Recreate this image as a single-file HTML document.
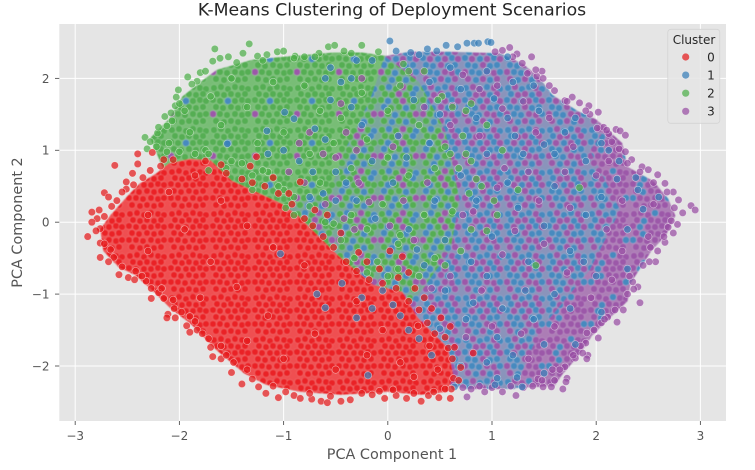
<!DOCTYPE html>
<html>
<head>
<meta charset="utf-8">
<title>K-Means Clustering of Deployment Scenarios</title>
<style>
html,body{margin:0;padding:0;background:#fff;width:755px;height:470px;overflow:hidden}
svg{display:block;font-family:"DejaVu Sans","Liberation Sans",sans-serif;filter:blur(0.35px)}
</style>
</head>
<body>
<svg id="chart" xmlns="http://www.w3.org/2000/svg" width="755" height="470" viewBox="0 0 755 470">
  <defs id="defs"><clipPath id="plot-clip"><rect x="59.3" y="24" width="666.7" height="397"/></clipPath><filter id="soften" x="-5%" y="-5%" width="110%" height="110%"><feGaussianBlur stdDeviation="0.4"/></filter></defs>
  <rect width="755" height="470" fill="#fff"/>
  <rect x="59.3" y="24" width="666.7" height="397" fill="#e5e5e5"/>
  <g id="grid"></g>
  <g id="regions" filter="url(#soften)"></g>
  <g id="points" clip-path="url(#plot-clip)"></g>
  <g id="axes"></g>
  <text x="392" y="15.5" text-anchor="middle" font-size="17.3" fill="#262626">K-Means Clustering of Deployment Scenarios</text>
  <text x="392" y="459" text-anchor="middle" font-size="14.4" fill="#555">PCA Component 1</text>
  <text transform="translate(22,222.5) rotate(-90)" text-anchor="middle" font-size="14.4" fill="#555">PCA Component 2</text>
  <g id="legend">
    <rect x="667.8" y="29.3" width="52" height="94" rx="3" fill="#e5e5e5" fill-opacity="0.85" stroke="#d4d4d4" stroke-width="0.8"/>
    <text x="694" y="44" text-anchor="middle" font-size="12" fill="#262626">Cluster</text>
  </g>
</svg>
<script>
// Axis tick labels
const xTicks = [-3, -2, -1, 0, 1, 2, 3];
const yTicks = [-2, -1, 0, 1, 2];
const clusters = ['0', '1', '2', '3'];

// Outlines of the dense areas as [pc1, pc2]
const regionRed = [[-2.76,-0.1],[-2.66,0.1],[-2.5,0.36],[-2.38,0.54],[-2.22,0.68],[-2.1,0.82],[-1.9,0.88],[-1.7,0.86],[-1.5,0.58],[-1.02,0.26],[-0.86,0.09],[-0.48,-0.46],[-0.14,-0.87],[0.14,-0.97],[0.29,-1.33],[0.58,-1.75],[0.63,-2.14],[0.57,-2.36],[0.32,-2.4],[0,-2.36],[-0.45,-2.4],[-0.84,-2.36],[-1.17,-2.26],[-1.38,-2.1],[-1.66,-1.76],[-1.88,-1.43],[-2.1,-1.18],[-2.25,-0.96],[-2.43,-0.73],[-2.58,-0.63],[-2.73,-0.4]];
const regionGreen = [[-2.28,1.17],[-2.1,1.44],[-1.97,1.75],[-1.77,1.98],[-1.64,2.12],[-1.3,2.26],[-1.0,2.3],[-0.52,2.36],[-0.25,2.36],[0.05,2.3],[0.1,1.7],[-0.2,1.0],[-0.35,0.4],[-0.9,-0.05],[-1.45,0.35],[-1.7,0.65],[-2.15,0.72]];
const regionGreenMix = [[-0.03,2.31],[0.3,1.95],[0.55,1.28],[0.69,0.31],[0.6,-0.39],[0.25,-1.1],[-0.12,-1.1],[-0.5,-0.7],[-0.9,-0.1],[-1.0,0.2],[-0.55,0.45],[-0.41,1.0],[-0.17,1.7]];
const regionBlueMix = [[-0.03,2.31],[0.21,2.37],[0.6,2.37],[1.08,2.35],[1.3,2.2],[1.46,2.0],[1.58,1.77],[1.82,1.55],[2.0,1.43],[2.05,1.22],[1.94,1.0],[2.23,0.17],[1.94,-0.66],[1.46,-1.5],[1.22,-2.32],[0.76,-2.32],[0.55,-2.25],[0.4,-1.75],[0.1,-1.3],[0.05,-0.7],[0.4,0.3],[0.3,1.3],[0.1,1.95]];
const regionPurple = [[2.0,1.43],[2.25,1.1],[2.3,0.77],[2.55,0.57],[2.69,0.33],[2.76,0.09],[2.67,-0.18],[2.53,-0.4],[2.33,-0.85],[2.3,-1.1],[2.11,-1.36],[1.96,-1.58],[1.85,-1.82],[1.67,-2.13],[1.6,-2.28],[1.0,-2.32],[1.2,-1.5],[1.7,-0.66],[2.0,0.17],[1.7,1.0],[1.8,1.3]];

// Individually read points for each cluster as [pc1, pc2]
const points0 = [[-2.62,0.79],[-2.40,0.95],[-2.26,0.97],[-2.40,0.81],[-2.72,0.41],[-2.68,0.35],[-2.84,0.14],[-2.77,0.17],[-2.79,0.05],[-2.84,0],[-2.76,-0.09],[-2.51,0.56],[-2.51,0.46],[-2.45,0.68],[-2.15,0.87],[-2.06,0.87],[-2.88,-0.2],[-2.76,-0.29],[-2.76,-0.49],[-2.63,-0.49],[-2.58,-0.73],[-2.49,-0.77],[-2.43,-0.8],[-2.32,-0.82],[-2.27,-0.92],[-2.27,-1.06],[-2.15,-1.06],[-2.06,-1.08],[-2.11,-1.28],[-2.12,-1.33],[-2.04,-1.33],[-1.9,-1.31],[-1.93,-1.44],[-1.9,-1.53],[-1.83,-1.5],[-1.7,-1.74],[-1.68,-1.87],[-1.6,-1.9],[-1.5,-2.09],[-1.4,-2.25],[-1.24,-2.29],[-1.17,-2.38],[-1.05,-2.44],[-0.9,-2.41],[-0.84,-2.45],[-0.73,-2.46],[-0.64,-2.49],[-0.58,-2.51],[-0.45,-2.49],[-0.36,-2.47],[-0.15,-2.4],[-0.03,-2.45],[0.08,-2.41],[0.18,-2.45],[0.32,-2.49],[0.39,-2.41],[0.49,-2.44],[0.6,-2.45],[0.61,-2.32],[0.63,-2.17],[-1.26,0.91],[-0.84,0.56],[-0.7,0.17],[0.02,-0.4],[0.14,-0.48],[0.1,-0.77],[0.26,-0.92],[0.51,-1.33],[0.29,-1.44],[0.58,-1.75],[0.82,-1.82],[0.64,-1.74],[-1.1,0.62],[-1.32,0.78],[-0.95,0.4],[-0.58,0.1],[-0.45,-0.15],[-0.28,-0.42],[-2.3,0.1],[-2.1,0.42],[-1.85,0.65],[-1.6,0.3],[-1.95,-0.1],[-2.3,-0.4],[-1.7,-0.55],[-1.35,-0.05],[-1.1,-0.35],[-0.8,-0.6],[-1.45,-0.9],[-1.8,-1.05],[-1.15,-1.3],[-0.7,-1.55],[-0.3,-1.1],[-0.05,-1.5],[-0.5,-2.05],[-1.0,-1.9],[-1.35,-1.65],[0.12,-1.95],[0.4,-1.72],[0.25,-2.15],[0.48,-2.05],[-0.2,-1.85],[-2.6,0.3],[-2.55,0.42],[-2.44,0.52],[-2.35,0.62],[-2.28,0.72],[-2.18,0.78],[-2.65,0.22],[-2.72,0.08],[-2.8,-0.12],[-2.72,-0.3],[-2.66,-0.38],[-2.68,-0.55],[-2.55,-0.62],[-2.42,-0.68],[-2.36,-0.75],[-2.2,-0.98],[-2.17,-0.92],[-2.05,-1.2],[-1.98,-1.25],[-1.85,-1.38],[-1.78,-1.55],[-1.72,-1.62],[-1.6,-1.72],[-1.55,-1.85],[-1.48,-1.95],[-1.35,-2.05],[-1.3,-2.18],[-1.1,-2.28],[-0.98,-2.36],[-0.75,-2.38],[-0.55,-2.42],[-0.25,-2.38],[-0.08,-2.35],[0.05,-2.33],[0.25,-2.38],[0.44,-2.36],[0.55,-2.32],[-1.75,0.85],[-1.6,0.8],[-1.55,0.68],[-1.4,0.6],[-1.3,0.55],[-1.18,0.5],[-1.05,0.4],[-0.92,0.25],[-0.8,0.05],[-0.72,-0.05],[-0.62,-0.2],[-0.52,-0.35],[-0.4,-0.55],[-0.3,-0.68],[-0.18,-0.8],[-0.05,-0.85],[0.08,-0.92],[0.2,-1.1],[0.3,-1.22],[0.38,-1.4],[0.45,-1.55],[0.55,-1.6],[0.62,-1.9],[0.7,-2.02],[0.68,-2.2],[-0.2,-0.55],[-0.08,-0.65],[0.2,-0.7],[0.35,-1.05],[0.42,-1.2],[0.6,-1.45]];
const points1 = [[0.02,2.52],[0.08,2.38],[0.38,2.41],[0.56,2.46],[0.67,2.44],[0.76,2.49],[0.83,2.49],[0.87,2.49],[0.96,2.51],[0.99,2.5],[0.22,2.36],[0.3,2.33],[0.47,2.38],[1.29,-2.29],[1.03,-2.26],[1.24,-2.16],[0.64,-2.29],[1.05,-2.17],[-0.9,1.44],[-0.99,1.53],[-1.16,1.27],[-1.54,1.09],[-0.68,-1.0],[-0.6,-1.19],[-0.19,-2.13],[-0.3,-1.33],[-0.44,-0.85],[-1.03,-0.44],[-0.7,1.3],[-0.55,1.7],[-0.35,2.0],[-0.25,1.35],[-0.15,0.85],[-0.5,0.7],[-0.75,0.35],[-0.3,0.3],[0.05,0.55],[0.1,1.2],[0.25,1.7],[0.4,1.1],[0.45,0.3],[0.2,-0.1],[0.35,-0.6],[0.55,-0.95],[0.75,-1.35],[0.95,-0.75],[1.1,-1.2],[1.2,-1.85],[0.95,-1.95],[0.7,-2.0],[1.4,-1.35],[1.6,-1.0],[1.35,-0.55],[1.0,-0.2],[0.85,0.3],[1.15,0.55],[1.5,-0.05],[1.75,-0.4],[1.9,0.1],[1.6,0.5],[1.3,0.95],[0.95,0.95],[0.85,1.45],[1.15,1.45],[0.7,1.85],[0.95,2.1],[1.2,1.95],[0.6,2.15],[1.45,1.55],[1.7,1.25],[1.9,0.85],[2.2,0.6],[2.38,0.62],[2.05,0.35],[2.3,-0.1],[2.45,0.18],[2.0,-0.75],[1.75,-1.2],[1.5,-1.7],[2.12,1.0],[1.6,0.95],[0.5,1.5],[0.7,0.65],[0.55,-0.25],[0.8,-0.55],[1.25,0.2],[1.05,-1.6],[0.82,-1.12],[1.22,1.2],[1.5,1.08],[1.02,1.72],[0.4,1.95],[1.88,-0.55],[1.32,-0.95],[0.18,0.9],[-0.12,0.05],[0.28,-0.38],[-0.6,1.15],[-0.72,0.7],[-0.85,0.85],[-0.45,1.95],[-0.4,0.55],[-0.5,0.3],[-0.62,0.4],[-0.35,1.6],[-0.55,2.15],[-1.0,1.0],[-1.15,0.95],[-0.6,2.0],[-0.3,2.25],[-0.15,2.25],[1.15,2.3],[1.4,1.9],[1.8,1.45],[2.22,0.85],[2.05,1.1],[2.4,0.45],[2.6,0.35],[2.3,-0.65],[2.05,-1.25],[1.8,-1.7],[1.5,-2.1],[-0.25,-1.05],[-0.15,-1.2],[-0.05,-0.95],[0.05,-1.15],[0.12,-1.3],[0.2,-1.5],[0.3,-1.62],[0.42,-1.85],[0.5,-1.48]];
const points2 = [[-2.33,1.18],[-2.31,1.02],[-2.21,1.24],[-2.14,1.47],[-2.07,1.41],[-2.12,1.34],[-2.04,1.62],[-2.03,1.74],[-2.01,1.84],[-1.92,2.02],[-1.83,1.96],[-1.8,2.08],[-1.68,2.24],[-1.66,2.41],[-1.61,2.28],[-1.53,2.3],[-1.39,2.35],[-1.33,2.48],[-1.25,2.31],[-1.16,2.33],[-1.06,2.37],[-1.0,2.38],[-0.89,2.31],[-0.66,2.35],[-0.57,2.44],[-0.51,2.46],[-0.25,2.46],[-0.09,2.37],[-0.8,2.3],[-0.42,2.38],[-2.22,1.05],[-2.1,1.1],[-1.9,1.25],[-1.95,1.55],[-1.7,1.75],[-1.5,2.0],[-1.6,1.35],[-1.35,1.6],[-1.1,1.95],[-0.8,1.9],[-1.25,1.1],[-1.0,1.25],[-0.75,0.95],[-0.45,1.45],[-0.25,1.8],[-0.65,1.55],[-1.75,1.0],[-1.5,0.85],[-1.15,0.7],[-1.0,0.45],[-0.65,0.55],[-0.35,0.75],[-0.2,1.15],[0.0,1.55],[0.12,1.9],[0.3,1.35],[0.2,0.65],[-0.05,0.25],[-0.2,-0.1],[-0.35,0.1],[0.1,-0.3],[0.35,0.1],[0.45,0.75],[0.55,1.05],[0.75,0.95],[0.62,0.15],[0.85,0.6],[1.1,1.0],[0.8,1.65],[0.45,-0.5],[0.3,-0.75],[-0.1,-0.55],[0.12,-0.18],[1.42,-0.6],[1.84,0.48],[-0.9,0.1],[-0.52,-0.02],[0.52,1.75],[0.0,0.9],[-0.52,1.1],[1.02,0.3],[0.95,-0.12],[-1.3,0.45],[-1.72,0.72],[0.62,1.6],[0.72,1.2],[0.8,0.85],[0.9,0.5],[0.78,0.4],[0.8,-0.1],[0.7,-0.4],[0.55,-0.6],[0.95,1.35],[0.68,0.75],[1.05,0.1],[0.6,0.95],[0.48,1.7],[0.35,2.1],[0.15,2.2],[0.2,2.1],[1.25,0.45],[0.75,1.55],[-1.55,0.75],[-1.3,0.65],[-1.05,0.5],[-0.9,0.35],[-0.98,0.2],[-0.75,0.22],[-0.6,0.0],[-0.45,-0.25],[-0.32,-0.5],[-1.4,0.82],[-1.2,0.72],[-0.2,-0.7],[0,-0.75],[0.1,-0.65],[-1.45,2.22],[-1.2,2.25],[-0.9,2.28],[-0.7,2.3],[-0.35,2.35],[-1.75,2.1],[-1.88,1.92],[-2.0,1.65],[-2.08,1.52],[-2.2,1.32],[-2.28,1.12],[-2.12,0.98],[-2.0,0.98],[-1.85,0.95],[-1.72,0.95]];
const points3 = [[1.17,2.43],[1.1,2.39],[1.03,2.37],[1.24,2.34],[1.38,2.3],[1.29,2.21],[1.34,2.07],[1.48,2.1],[1.43,2.03],[1.49,2.0],[1.6,1.83],[1.7,1.69],[1.77,1.74],[1.84,1.66],[1.93,1.62],[2.02,1.53],[1.94,1.5],[2.07,1.32],[2.01,1.31],[2.12,1.23],[2.19,1.29],[2.23,1.27],[2.28,1.21],[2.22,1.02],[2.34,0.87],[2.3,0.82],[2.44,0.77],[2.5,0.73],[2.59,0.66],[2.66,0.54],[2.74,0.42],[2.79,0.31],[2.83,0.13],[2.91,0.23],[2.95,0.17],[2.78,-0.03],[2.69,-0.07],[2.74,-0.15],[2.66,-0.28],[2.59,-0.4],[2.57,-0.55],[2.51,-0.55],[2.4,-0.9],[2.35,-0.83],[2.36,-0.93],[2.42,-1.12],[2.26,-1.22],[2.2,-1.39],[2.11,-1.32],[2.05,-1.4],[2.02,-1.61],[1.91,-1.54],[1.9,-1.68],[1.92,-1.85],[1.87,-1.82],[1.91,-1.9],[1.8,-1.89],[1.7,-2.01],[1.72,-2.17],[1.71,-2.22],[1.68,-2.32],[1.57,-2.29],[1.49,-2.29],[1.39,-2.28],[1.23,-2.41],[1.1,-2.36],[0.93,-2.36],[0.76,-2.43],[1.44,-2.18],[1.58,-2.05],[-0.85,1.1],[-0.62,0.95],[-0.4,1.25],[-0.28,0.55],[0.05,1.05],[0.15,0.3],[0.38,0.55],[0.35,1.6],[0.6,1.35],[0.72,2.05],[1.05,1.9],[0.88,1.2],[1.12,0.75],[0.72,0.1],[0.6,-0.75],[0.9,-0.95],[0.75,-1.6],[1.0,-1.45],[1.28,-1.55],[1.6,-1.45],[1.35,-1.9],[1.1,-0.45],[1.5,-0.3],[1.72,-0.7],[1.95,-1.05],[2.15,-0.8],[2.25,-0.4],[2.1,-0.1],[2.5,-0.2],[2.55,0.25],[2.25,0.3],[1.75,0.2],[1.45,0.3],[1.35,0.7],[1.7,0.7],[2.0,0.65],[2.12,0.85],[1.78,1.05],[1.42,1.25],[1.3,1.68],[1.55,1.45],[1.1,1.58],[0.88,1.85],[0.62,1.62],[0.25,-0.25],[0.42,-0.92],[1.22,-0.12],[0.82,0.15],[1.05,0.48],[-0.18,0.28],[0.02,-0.05],[-0.75,1.25],[-0.5,0.9],[-0.6,0.25],[-0.45,1.65],[-0.25,2.0],[-0.95,0.7],[-0.8,0.55],[-0.3,1.0],[-0.32,-0.1],[-0.42,0.05],[1.42,2.12],[1.2,2.3],[1.55,1.9],[1.72,1.68],[1.9,1.55],[2.1,1.28],[2.15,1.12],[2.28,0.98],[2.42,0.7],[2.55,0.55],[2.68,0.42],[2.75,0.2],[2.72,0.02],[2.65,-0.2],[2.52,-0.35],[2.45,-0.6],[2.32,-0.75],[2.3,-1.0],[2.18,-1.22],[2.08,-1.35],[1.98,-1.5],[1.85,-1.72],[1.78,-1.85],[1.65,-2.05],[1.6,-2.2],[1.48,-2.2],[1.3,-2.3],[1.18,-2.28],[1.0,-2.3],[0.88,-2.28],[0.8,-2.32],[0.72,-2.3]];

// Axis functions
const xScale = v => 387.8 + 104.2 * v;
const yScale = v => 222.2 - 71.9 * v;
const SVG_NS = 'http://www.w3.org/2000/svg';
const make = (tag, parent) => { const e = document.createElementNS(SVG_NS, tag); parent.appendChild(e); return e; };
const clusterColors = ['#e41a1c', '#377eb8', '#4daf4a', '#984ea3'];

const grid = document.getElementById('grid');
const axes = document.getElementById('axes');
xTicks.forEach(t => {
  const g = make('line', grid);
  
  
  g.setAttribute('x1', xScale(t)); g.setAttribute('x2', xScale(t));
  g.setAttribute('y1', 24); g.setAttribute('y2', 421);
  g.setAttribute('stroke', '#fff'); g.setAttribute('stroke-width', 1);
  const k = make('line', axes);
  
  
  k.setAttribute('x1', xScale(t)); k.setAttribute('x2', xScale(t));
  k.setAttribute('y1', 421); k.setAttribute('y2', 425);
  k.setAttribute('stroke', '#555'); k.setAttribute('stroke-width', 0.9);
  const l = make('text', axes);
  
  
  l.setAttribute('x', xScale(t)); l.setAttribute('y', 440);
  l.setAttribute('text-anchor', 'middle'); l.setAttribute('font-size', 12); l.setAttribute('fill', '#555');
  l.textContent = String(t).replace('-', '\u2212');
});
yTicks.forEach(t => {
  const g = make('line', grid);
  
  
  g.setAttribute('x1', 59.3); g.setAttribute('x2', 726);
  g.setAttribute('y1', yScale(t)); g.setAttribute('y2', yScale(t));
  g.setAttribute('stroke', '#fff'); g.setAttribute('stroke-width', 1);
  const k = make('line', axes);
  
  
  k.setAttribute('x1', 55); k.setAttribute('x2', 59.3);
  k.setAttribute('y1', yScale(t)); k.setAttribute('y2', yScale(t));
  k.setAttribute('stroke', '#555'); k.setAttribute('stroke-width', 0.9);
  const l = make('text', axes);
  
  
  l.setAttribute('x', 49.5); l.setAttribute('y', yScale(t) + 4.4);
  l.setAttribute('text-anchor', 'end'); l.setAttribute('font-size', 12); l.setAttribute('fill', '#555');
  l.textContent = String(t).replace('-', '\u2212');
});

// Repeating marker texture used to fill the densest parts of the cloud
const tileMarks = [[4,4],[11,3],[18,5],[25,3],[32,4],[38,5],[7,10],[14,11],[21,10],[28,11],[35,10],[3,16],[10,17],[18,17],[25,17],[32,16],[38,17],[6,23],[13,24],[21,23],[28,24],[35,23],[3,30],[10,30],[17,31],[25,30],[32,31],[38,30],[6,37],[14,38],[21,37],[28,38],[35,37]];
const shades = { r:'#ea2427', g:'#55ae53', b:'#478abf', p:'#9c59a9' };
function texture(id, base, order) {
  const defs = document.getElementById('defs');
  const p = make('pattern', defs);
  p.setAttribute('id', id);
  p.setAttribute('patternUnits', 'userSpaceOnUse');
  p.setAttribute('width', 42); p.setAttribute('height', 42);
  const bg = make('rect', p);
  bg.setAttribute('width', 42); bg.setAttribute('height', 42); bg.setAttribute('fill', base);
  tileMarks.forEach((m, i) => {
    const c = make('circle', p);
    c.setAttribute('cx', m[0]); c.setAttribute('cy', m[1]); c.setAttribute('r', 3.5);
    c.setAttribute('fill', shades[order[i % order.length]]);
    c.setAttribute('stroke', '#fff'); c.setAttribute('stroke-opacity', 0.3); c.setAttribute('stroke-width', 0.5);
  });
}
texture('tex-red', '#ef5051', 'r');
texture('tex-green', '#78bd76', 'gggggggggggggbggggggggp');
texture('tex-green-mix', '#7aa79a', 'gbgpgbggpgbgbgpggbg');
texture('tex-blue-mix', '#8a94bb', 'bpbbpbbppbpbpbpbpb');
texture('tex-purple', '#ac7db5', 'pppbpppbppppbpp');

const regionsGroup = document.getElementById('regions');
function drawRegion(outline, tex) {
  const poly = make('polygon', regionsGroup);
  poly.setAttribute('points', outline.map(p => xScale(p[0]).toFixed(1) + ',' + yScale(p[1]).toFixed(1)).join(' '));
  poly.setAttribute('fill', 'url(#' + tex + ')');
  return poly;
}
const r3 = drawRegion(regionGreen, 'tex-green');


const r0 = drawRegion(regionPurple, 'tex-purple');


const r1 = drawRegion(regionBlueMix, 'tex-blue-mix');


const r2 = drawRegion(regionGreenMix, 'tex-green-mix');


const r4 = drawRegion(regionRed, 'tex-red');



const pointsGroup = document.getElementById('points');
function drawPoints(series, colour, name) {
  series.forEach(p => {
    const c = make('circle', pointsGroup);
    
    
    c.setAttribute('cx', xScale(p[0])); c.setAttribute('cy', yScale(p[1]));
    c.setAttribute('r', 3.7);
    c.setAttribute('fill', colour);
    c.setAttribute('fill-opacity', 0.72);
    c.setAttribute('stroke', '#fff');
    c.setAttribute('stroke-opacity', 0.55);
    c.setAttribute('stroke-width', 0.6);
  });
}
drawPoints(points3, clusterColors[3], 'cluster-3-point');
drawPoints(points1, clusterColors[1], 'cluster-1-point');
drawPoints(points2, clusterColors[2], 'cluster-2-point');
drawPoints(points0, clusterColors[0], 'cluster-0-point');

const legend = document.getElementById('legend');
clusters.forEach((label, i) => {
  const rowY = 57 + i * 18.1;
  const m = make('circle', legend);
  
  
  m.setAttribute('cx', 685.7); m.setAttribute('cy', rowY); m.setAttribute('r', 3.6);
  m.setAttribute('fill', clusterColors[i]); m.setAttribute('fill-opacity', 0.72);
  const t = make('text', legend);
  
  
  t.setAttribute('x', 711); t.setAttribute('y', rowY + 4.4);
  t.setAttribute('text-anchor', 'middle'); t.setAttribute('font-size', 12); t.setAttribute('fill', '#262626');
  t.textContent = label;
});
</script>
</body>
</html>
